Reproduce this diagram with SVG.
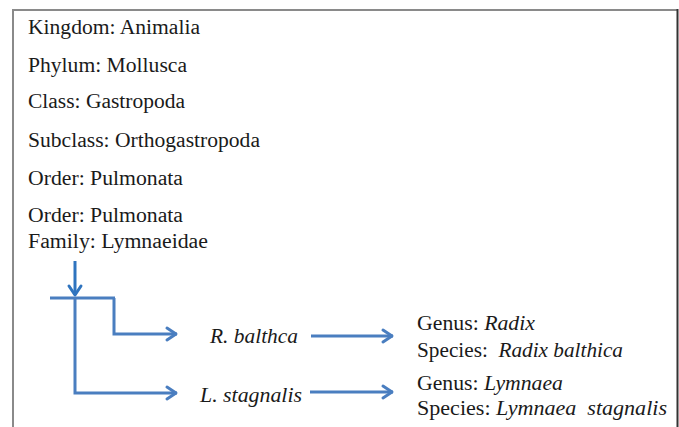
<svg xmlns="http://www.w3.org/2000/svg" width="679" height="427" viewBox="0 0 679 427">
<defs>
<style>
.t{font-family:'Liberation Serif',serif;font-size:20px;fill:#1a1a1a}
.i{font-style:italic}
.c{fill:none;stroke:#4a7ec0;stroke-width:3}
.h{fill:none;stroke:#4a7ec0;stroke-width:3;stroke-linecap:round;stroke-linejoin:round}
</style>
</defs>
<rect width="679" height="427" fill="#fff"/>
<g id="frame">
<line x1="13" y1="10" x2="678" y2="10" stroke="#8a8a8a" stroke-width="2"/>
<line x1="13" y1="9" x2="13" y2="427" stroke="#8a8a8a" stroke-width="2"/>
<line x1="677.5" y1="9" x2="677.5" y2="427" stroke="#333" stroke-width="2"/>
</g>
<g id="ranks">
<text class="t" font-family="Liberation Serif" x="28" y="34" textLength="172" lengthAdjust="spacingAndGlyphs">Kingdom: Animalia</text>
<text class="t" font-family="Liberation Serif" x="28" y="72" textLength="159" lengthAdjust="spacingAndGlyphs">Phylum: Mollusca</text>
<text class="t" font-family="Liberation Serif" x="28" y="108" textLength="157" lengthAdjust="spacingAndGlyphs">Class: Gastropoda</text>
<text class="t" font-family="Liberation Serif" x="28" y="147" textLength="232" lengthAdjust="spacingAndGlyphs">Subclass: Orthogastropoda</text>
<text class="t" font-family="Liberation Serif" x="28" y="185" textLength="155" lengthAdjust="spacingAndGlyphs">Order: Pulmonata</text>
<text class="t" font-family="Liberation Serif" x="28" y="222" textLength="155" lengthAdjust="spacingAndGlyphs">Order: Pulmonata</text>
<text class="t" font-family="Liberation Serif" x="28" y="248" textLength="180" lengthAdjust="spacingAndGlyphs">Family: Lymnaeidae</text>
</g>
<g id="connectors">
<line x1="75" y1="261" x2="75" y2="295" stroke="#2f74bf" stroke-width="3"/>
<polyline points="69,286 75,295 81,286" fill="none" stroke="#2f74bf" stroke-width="3" stroke-linejoin="round" stroke-linecap="round"/>
<line class="c" x1="50" y1="298" x2="115" y2="298"/>
<polyline class="c" points="114,298 114,334 177,334"/>
<polyline class="h" points="167,328 176,334 167,340"/>
<polyline class="c" points="75,298 75,393 177,393"/>
<polyline class="h" points="167,387 176,393 167,399"/>
<line class="c" x1="311" y1="336" x2="393" y2="336"/>
<polyline class="h" points="383,330 392,336 383,342"/>
<line class="c" x1="310" y1="392" x2="393" y2="392"/>
<polyline class="h" points="383,386 392,392 383,398"/>
</g>
<g id="species-r">
<text class="t i" font-family="Liberation Serif" x="210" y="343" textLength="88" lengthAdjust="spacingAndGlyphs">R. balthca</text>
</g>
<g id="species-l">
<text class="t i" font-family="Liberation Serif" x="200" y="402" textLength="102" lengthAdjust="spacingAndGlyphs">L. stagnalis</text>
</g>
<g id="radix">
<text class="t" font-family="Liberation Serif" x="417" y="330" textLength="118" lengthAdjust="spacingAndGlyphs">Genus: <tspan class="i">Radix</tspan></text>
<text class="t" font-family="Liberation Serif" x="417" y="357" textLength="206" lengthAdjust="spacingAndGlyphs" xml:space="preserve">Species:  <tspan class="i">Radix balthica</tspan></text>
</g>
<g id="lymnaea">
<text class="t" font-family="Liberation Serif" x="417" y="390" textLength="146" lengthAdjust="spacingAndGlyphs">Genus: <tspan class="i">Lymnaea</tspan></text>
<text class="t" font-family="Liberation Serif" x="417" y="415" textLength="250" lengthAdjust="spacingAndGlyphs" xml:space="preserve">Species: <tspan class="i">Lymnaea  stagnalis</tspan></text>
</g>
</svg>
